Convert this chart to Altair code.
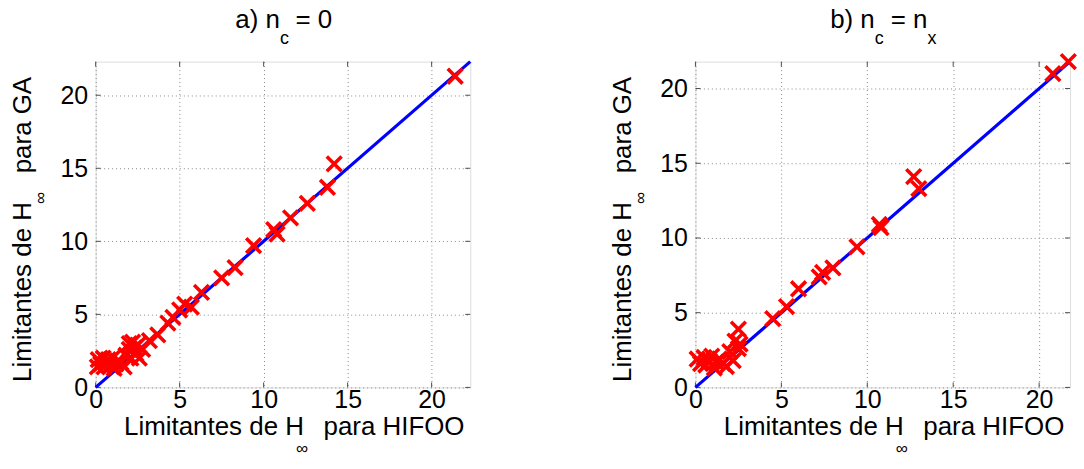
import altair as alt
import pandas as pd

# ---------------- data ----------------
# panel a) n_c = 0
a_hifoo = [0.1, 0.15, 0.3, 0.45, 0.5, 0.6, 0.75, 0.9, 1.0, 1.1, 1.2, 1.3, 1.5, 1.7, 1.8,
           2.0, 2.0, 2.1, 2.2, 2.3, 2.4, 2.5, 2.6, 2.8, 3.2, 3.7, 4.3, 4.6, 5.0, 5.3,
           5.7, 6.3, 7.5, 8.3, 9.4, 10.6, 10.8, 11.6, 12.6, 13.8, 14.2, 21.4]
a_ga = [1.4, 1.9, 1.6, 2.0, 1.4, 1.7, 1.9, 1.5, 2.0, 1.3, 1.6, 1.8, 1.7, 1.4, 2.2,
        2.6, 3.0, 2.0, 3.1, 2.7, 2.3, 2.9, 2.0, 2.6, 3.2, 3.6, 4.4, 4.8, 5.3, 5.7,
        5.5, 6.5, 7.5, 8.2, 9.7, 10.8, 10.5, 11.6, 12.6, 13.7, 15.3, 21.3]

# panel b) n_c = n_x
b_hifoo = [0.1, 0.3, 0.5, 0.6, 0.8, 0.95, 1.1, 1.2, 1.4, 1.6, 1.8, 2.0, 2.2, 2.3, 2.5,
           2.6, 2.5, 4.5, 5.3, 6.0, 7.2, 7.4, 8.0, 9.4, 10.7, 10.8, 12.7, 13.0, 20.8, 21.7]
b_ga = [1.9, 1.6, 2.0, 1.5, 1.8, 2.1, 1.3, 1.7, 1.9, 1.6, 1.4, 2.4, 1.8, 3.1, 2.6,
        2.9, 3.9, 4.6, 5.4, 6.6, 7.4, 7.7, 8.0, 9.4, 10.9, 10.7, 14.1, 13.3, 21.0, 21.8]

tick_values = [0, 5, 10, 15, 20]
a_max = 22.3
b_max = 21.8

x_title = "Limitantes de H\u00a0\u00a0\u2009para HIFOO"
y_title = "Limitantes de H\u00a0\u00a0\u00a0\u00a0para GA"

# ---------------- style ----------------
W, H = 376, 327
FONT = "Liberation Sans"
FRAME = "#4d4d4d"


def one(v):
    return alt.Data(values=[{"k": 0}])


def txt(s, x, y, size=26, align="left", angle=0):
    return alt.Chart(one(0)).mark_text(
        text=s, align=align, baseline="alphabetic", fontSize=size, font=FONT,
        color="black", angle=angle
    ).encode(x=alt.value(x), y=alt.value(y))


def panel(xs, ys, dmax, title_parts):
    xsc = alt.Scale(domain=[0, dmax], nice=False, zero=False)
    ysc = alt.Scale(domain=[0, dmax], nice=False, zero=False)
    common = dict(values=tick_values, grid=True, gridDash=[1, 3], gridColor="#8a8a8a",
                  gridWidth=1, ticks=False, domain=False, labelFontSize=25, labelFont=FONT,
                  labelColor="black", labelFlush=False, titleFontSize=26, titleFont=FONT,
                  titleFontWeight="normal", titleColor="black", titleBaseline="alphabetic",
                  titleAlign="left")
    xax = alt.Axis(title=x_title, labelPadding=0, titleX=28, titleY=47, **common)
    yax = alt.Axis(title=y_title, labelPadding=8, titleX=-65, titleY=321, titleAngle=270,
                   **common)

    def X(f):
        return alt.X(f, type="quantitative", scale=xsc, axis=xax)

    def Y(f):
        return alt.Y(f, type="quantitative", scale=ysc, axis=yax)

    pts = pd.DataFrame({"hifoo": xs, "ga": ys})
    diag = pd.DataFrame({"v": [0, dmax]})
    tk = pd.DataFrame({"t": tick_values})

    line = alt.Chart(diag).mark_line(color="#0000ff", strokeWidth=3.2).encode(
        x=X("v"), y=Y("v"))
    marks = alt.Chart(pts).mark_point(
        shape="M-1,-1L1,1M-1,1L1,-1", size=220, filled=False, color="#ff0000",
        strokeWidth=3.6, opacity=1, clip=False).encode(x=X("hifoo"), y=Y("ga"))

    tb = alt.Chart(tk).mark_rule(color=FRAME, strokeWidth=1).encode(
        x=X("t"), y=alt.value(H), y2=alt.value(H - 5))
    tt = alt.Chart(tk).mark_rule(color=FRAME, strokeWidth=1).encode(
        x=X("t"), y=alt.value(0), y2=alt.value(5))
    tl = alt.Chart(tk).mark_rule(color=FRAME, strokeWidth=1).encode(
        y=Y("t"), x=alt.value(0), x2=alt.value(5))
    tr = alt.Chart(tk).mark_rule(color=FRAME, strokeWidth=1).encode(
        y=Y("t"), x=alt.value(W - 5), x2=alt.value(W))

    inf_x = txt("\u221e", 201, H + 67, size=17)
    inf_y = txt("\u221e", -50, 143, size=17, angle=270)

    titles = [txt(s, x, y, size=sz, align=al) for (s, x, y, sz, al) in title_parts]

    return alt.layer(tb, tt, tl, tr, line, marks, inf_x, inf_y, *titles).properties(
        width=W, height=H)


left = panel(a_hifoo, a_ga, a_max, [
    ("a) n", 185, -34, 26, "right"),
    ("c", 185, -18, 18, "left"),
    ("= 0", 200.5, -34, 26, "left"),
])
right = panel(b_hifoo, b_ga, b_max, [
    ("b) n", 180, -34, 26, "right"),
    ("c", 180, -18, 18, "left"),
    ("= n", 196, -34, 26, "left"),
    ("x", 233, -18, 18, "left"),
])

chart = alt.hconcat(left, right, spacing=132).properties(
    padding={"left": 9, "top": 5, "right": 0, "bottom": 0}
).configure_view(stroke=FRAME, strokeWidth=1.3).configure(background="white")

chart.save("out.html", embed_options={"renderer": "svg", "actions": False})
